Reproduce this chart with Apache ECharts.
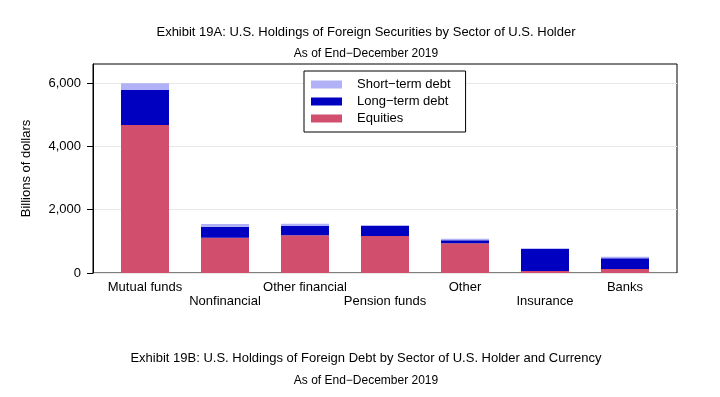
<!DOCTYPE html>
<html>
<head>
<meta charset="utf-8">
<script src="https://cdn.jsdelivr.net/npm/echarts@6/dist/echarts.min.js"></script>
<style>
  html, body { margin: 0; padding: 0; background: #fff; }
  #chart { width: 720px; height: 397px; }
</style>
</head>
<body>
<div id="chart"></div>
<script>
// sectors of U.S. holder, billions of dollars, end-December 2019
const sectors = ['Mutual funds', 'Nonfinancial', 'Other financial', 'Pension funds', 'Other', 'Insurance', 'Banks'];
const equities = [4676, 1115, 1191, 1169, 938, 63, 126];
const longTermDebt = [1106, 348, 294, 326, 94, 695, 338];
const shortTermDebt = [212, 85, 73, 15, 53, 22, 51];
const yTicks = [0, 2000, 4000, 6000];
const yMax = 6600;

const font = 'Liberation Sans, Arial, sans-serif';
const chart = echarts.init(document.getElementById('chart'));

const barSeries = (name, data, color) => ({
  name: name,
  type: 'bar',
  stack: 'total',
  barWidth: 48,
  xAxisIndex: 0,
  yAxisIndex: 0,
  data: data,
  itemStyle: { color: color },
  emphasis: { disabled: true }
});

const titleStyle = (size) => ({ fontSize: size, fontWeight: 'normal', color: '#000', fontFamily: font });

chart.setOption({
  animation: false,
  backgroundColor: '#fff',
  textStyle: { fontFamily: font },
  title: [
    { text: 'Exhibit 19A: U.S. Holdings of Foreign Securities by Sector of U.S. Holder', left: 366, top: 26, textAlign: 'center', padding: 0, textStyle: titleStyle(13) },
    { text: 'As of End\u2212December 2019', left: 366, top: 48, textAlign: 'center', padding: 0, textStyle: titleStyle(12) },
    { text: 'Exhibit 19B: U.S. Holdings of Foreign Debt by Sector of U.S. Holder and Currency', left: 366, top: 352, textAlign: 'center', padding: 0, textStyle: titleStyle(13) },
    { text: 'As of End\u2212December 2019', left: 366, top: 375, textAlign: 'center', padding: 0, textStyle: titleStyle(12) }
  ],
  legend: {
    orient: 'vertical',
    left: 304,
    top: 71,
    data: ['Short\u2212term debt', 'Long\u2212term debt', 'Equities'],
    icon: 'rect',
    itemWidth: 31,
    itemHeight: 8,
    itemGap: 2,
    padding: [6, 15, 6, 7],
    borderColor: '#000',
    borderWidth: 1,
    backgroundColor: '#fff',
    selectedMode: false,
    textStyle: { fontSize: 13, color: '#000', lineHeight: 15, padding: [0, 0, 0, 10], fontFamily: font }
  },
  grid: [
    // bars: inner band so categories sit 80px apart
    { left: 105, right: 55, top: 64, bottom: 124 },
    // frame, y axis and gridlines
    { left: 93, right: 43, top: 64, bottom: 124, show: true, borderColor: '#000', borderWidth: 1 }
  ],
  xAxis: [
    {
      type: 'category',
      gridIndex: 0,
      data: sectors,
      boundaryGap: true,
      axisLine: { show: false },
      axisTick: { show: false },
      axisLabel: {
        interval: 0,
        formatter: (v, i) => (i % 2 ? '\n' + v : v),
        fontSize: 13,
        lineHeight: 14,
        color: '#000',
        margin: 7,
        fontFamily: font
      }
    },
    {
      type: 'value',
      gridIndex: 1,
      min: 0,
      max: 1,
      show: false
    }
  ],
  yAxis: [
    {
      type: 'value',
      gridIndex: 0,
      min: 0,
      max: yMax,
      show: false,
      splitLine: { show: false }
    },
    {
      type: 'value',
      gridIndex: 1,
      min: 0,
      max: yMax,
      interval: 2000,
      name: 'Billions of dollars',
      nameLocation: 'middle',
      nameGap: 60,
      nameRotate: 90,
      nameTextStyle: { fontSize: 13, color: '#000', fontFamily: font },
      axisLine: { show: true, onZero: false, lineStyle: { color: '#000' } },
      axisTick: { show: true, length: 6, customValues: yTicks, lineStyle: { color: '#000' } },
      axisLabel: {
        customValues: yTicks,
        formatter: (v) => v.toLocaleString('en-US'),
        fontSize: 13,
        color: '#000',
        margin: 12,
        fontFamily: font
      },
      splitLine: { show: true, lineStyle: { color: '#e8e8e8', width: 1 } }
    }
  ],
  series: [
    barSeries('Equities', equities, '#d14f6d'),
    barSeries('Long\u2212term debt', longTermDebt, '#0000c0'),
    barSeries('Short\u2212term debt', shortTermDebt, '#b1b1f7')
  ]
});
</script>
</body>
</html>
